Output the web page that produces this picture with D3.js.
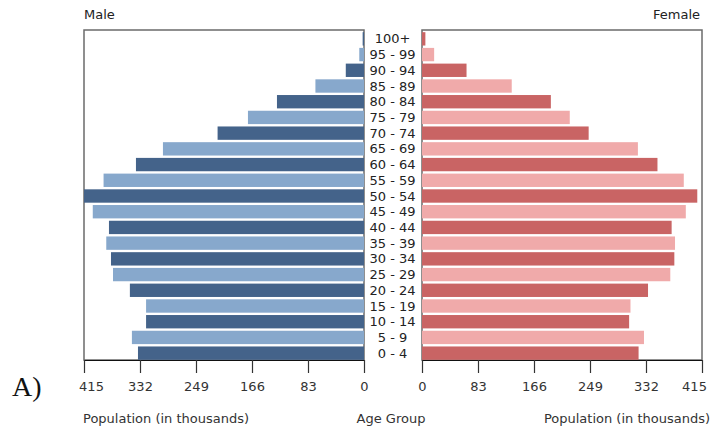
<!DOCTYPE html>
<html>
<head>
<meta charset="utf-8">
<script src="https://cdn.jsdelivr.net/npm/d3@7"></script>
<style>
  html, body { margin: 0; padding: 0; background: #fff; }
  svg { display: block; }
  text { font-family: "DejaVu Sans", sans-serif; }
</style>
</head>
<body>
<svg id="chart" width="727" height="428"></svg>
<script>
const ageGroups = ["0 - 4","5 - 9","10 - 14","15 - 19","20 - 24","25 - 29","30 - 34","35 - 39","40 - 44","45 - 49","50 - 54","55 - 59","60 - 64","65 - 69","70 - 74","75 - 79","80 - 84","85 - 89","90 - 94","95 - 99","100+"];
const maleValues   = [335, 344, 323, 323, 347, 372, 375, 382, 378, 402, 415, 386, 338, 298, 217, 172, 129, 72, 27, 7, 2];
const femaleValues = [321, 329, 307, 309, 335, 368, 374, 375, 370, 391, 408, 388, 349, 320, 247, 219, 191, 133, 66, 18, 5];
const tickValues = [0, 83, 166, 249, 332, 415];
const maxValue = 415;

(function () {
const svg = d3.select("#chart");
const plotTop = 30, plotBottom = 360;
const leftP = { x0: 84, x1: 364 };
const rightP = { x0: 422, x1: 702 };

const y = d3.scaleBand().domain(ageGroups.slice().reverse()).range([31, 361]).paddingInner(0.15).paddingOuter(0.075);
const xL = d3.scaleLinear().domain([maxValue, 0]).range([leftP.x0, leftP.x1]);
const xR = d3.scaleLinear().domain([0, maxValue]).range([rightP.x0, rightP.x1]);

const maleColors = ["#44638a", "#87a8cc"];
const femaleColors = ["#c96464", "#f0aaaa"];

// panel frames
[leftP, rightP].forEach(p => {
  svg.append("rect").attr("x", p.x0).attr("y", plotTop).attr("width", p.x1 - p.x0).attr("height", plotBottom - plotTop)
    .attr("fill", "#fff").attr("stroke", "#6b6b6b").attr("stroke-width", 1.5);
});

// bars
svg.append("g").selectAll("rect").data(ageGroups).join("rect")
  .attr("x", (d, i) => xL(maleValues[i]))
  .attr("y", d => y(d))
  .attr("width", (d, i) => xL(0) - xL(maleValues[i]))
  .attr("height", y.bandwidth())
  .attr("fill", (d, i) => maleColors[i % 2]);

svg.append("g").selectAll("rect").data(ageGroups).join("rect")
  .attr("x", xR(0))
  .attr("y", d => y(d))
  .attr("width", (d, i) => xR(femaleValues[i]) - xR(0))
  .attr("height", y.bandwidth())
  .attr("fill", (d, i) => femaleColors[i % 2]);

// age labels
svg.append("g").selectAll("text").data(ageGroups).join("text")
  .attr("x", 392.5)
  .attr("y", d => y(d) + y.bandwidth() / 2)
  .attr("dy", "0.35em")
  .attr("text-anchor", "middle")
  .attr("font-size", 13)
  .attr("fill", "#222")
  .text(d => d);

// axes
function styleAxis(g) {
  g.select(".domain").attr("stroke", "#111").attr("stroke-width", 1.2);
  g.selectAll(".tick line").attr("stroke", "#333").attr("stroke-width", 1.2);
  g.selectAll(".tick text").attr("font-size", 13).attr("fill", "#333")
    .attr("dy", "0.35em").attr("y", 26);
}
const gL = svg.append("g").attr("transform", `translate(0,${plotBottom})`)
  .call(d3.axisBottom(xL).tickValues(tickValues).tickSize(13).tickSizeOuter(0).tickPadding(8));
styleAxis(gL);
gL.selectAll(".tick text").filter(d => d === maxValue).attr("dx", 7);

const gR = svg.append("g").attr("transform", `translate(0,${plotBottom})`)
  .call(d3.axisBottom(xR).tickValues(tickValues).tickSize(13).tickSizeOuter(0).tickPadding(8));
styleAxis(gR);
gR.selectAll(".tick text").filter(d => d === maxValue).attr("dx", -8);

// titles
svg.append("text").attr("x", 84).attr("y", 14).attr("dy", "0.35em").attr("font-size", 13).attr("fill", "#222").text("Male");
svg.append("text").attr("x", 700).attr("y", 14).attr("dy", "0.35em").attr("text-anchor", "end").attr("font-size", 13).attr("fill", "#222").text("Female");

svg.append("text").attr("x", 83).attr("y", 418).attr("dy", "0.35em").attr("font-size", 13).attr("fill", "#333").text("Population (in thousands)");
svg.append("text").attr("x", 710).attr("y", 418).attr("dy", "0.35em").attr("text-anchor", "end").attr("font-size", 13).attr("fill", "#333").text("Population (in thousands)");
svg.append("text").attr("x", 391).attr("y", 418).attr("dy", "0.35em").attr("text-anchor", "middle").attr("font-size", 13).attr("fill", "#333").text("Age Group");

svg.append("text").attr("x", 12).attr("y", 396).attr("font-size", 28).attr("fill", "#111")
  .style("font-family", "'Liberation Serif', 'Times New Roman', serif").text("A)");
})();
</script>
</body>
</html>
